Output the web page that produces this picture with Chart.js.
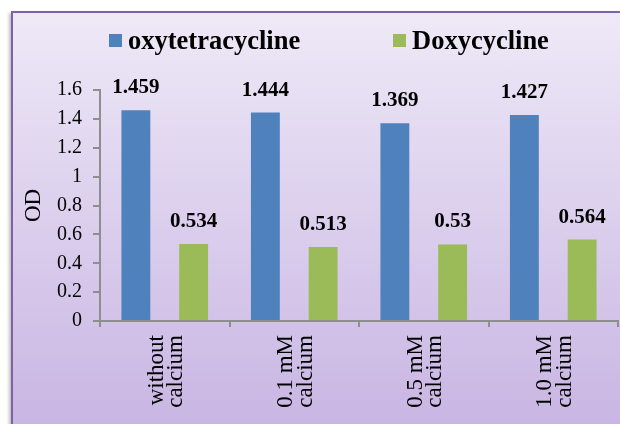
<!DOCTYPE html>
<html>
<head>
<meta charset="utf-8">
<script src="https://cdn.jsdelivr.net/npm/chart.js@4.4.1/dist/chart.umd.min.js"></script>
<style>
  html, body { margin: 0; padding: 0; background: #ffffff; width: 620px; height: 424px; overflow: hidden; }
  #panel {
    position: absolute; left: 11px; top: 11px; width: 640px; height: 430px;
    border: 2px solid #7e62a6;
    background: linear-gradient(to bottom, #eee9f7 0%, #c7b3e2 100%);
    box-shadow: -2px 2px 3px rgba(0, 0, 0, 0.25);
  }
  #c { position: absolute; left: 0; top: 0; }
</style>
</head>
<body>
<div id="panel"></div>
<canvas id="c" width="620" height="424"></canvas>
<script>
// Calcium treatments (two-line axis labels)
const categories = [
  ['without', 'calcium'],
  ['0.1 mM', 'calcium'],
  ['0.5 mM', 'calcium'],
  ['1.0 mM', 'calcium']
];
const seriesNames = ['oxytetracycline', 'Doxycycline'];
const oxytetracyclineOD = [1.459, 1.444, 1.369, 1.427];
const doxycyclineOD = [0.534, 0.513, 0.53, 0.564];
const yTickLabels = ['0', '0.2', '0.4', '0.6', '0.8', '1', '1.2', '1.4', '1.6'];

const SERIF = '"Liberation Serif", "Times New Roman", serif';
const AXIS_GREY = '#8e8e8e';

// Legend row drawn across the top of the panel
const legendRow = {
  id: 'legendRow',
  afterDraw(chart) {
    const ctx = chart.ctx;
    const starts = [109, 393];
    ctx.save();
    ctx.font = 'bold 26.5px ' + SERIF;
    ctx.textBaseline = 'middle';
    ctx.textAlign = 'left';
    chart.data.datasets.forEach((ds, i) => {
      ctx.fillStyle = ds.backgroundColor;
      ctx.fillRect(starts[i], 34, 13, 13);
      ctx.fillStyle = '#000000';
      ctx.fillText(ds.label, starts[i] + 19, 42);
    });
    ctx.restore();
  }
};

// Value printed above every bar
const valueLabels = {
  id: 'valueLabels',
  afterDatasetsDraw(chart) {
    const ctx = chart.ctx;
    ctx.save();
    ctx.font = 'bold 21px ' + SERIF;
    ctx.textAlign = 'center';
    ctx.textBaseline = 'alphabetic';
    ctx.fillStyle = '#000000';
    chart.data.datasets.forEach((ds, i) => {
      chart.getDatasetMeta(i).data.forEach((bar, j) => {
        ctx.fillText(String(ds.data[j]), bar.x, bar.y - 17);
      });
    });
    ctx.restore();
  }
};

new Chart(document.getElementById('c'), {
  type: 'bar',
  data: {
    labels: categories,
    datasets: [
      { label: seriesNames[0], data: oxytetracyclineOD, backgroundColor: '#4f81bd', borderWidth: 0 },
      { label: seriesNames[1], data: doxycyclineOD, backgroundColor: '#9bbb59', borderWidth: 0 }
    ]
  },
  options: {
    responsive: false,
    animation: false,
    events: [],
    datasets: { bar: { categoryPercentage: 0.892, barPercentage: 0.5 } },
    layout: { padding: { top: 90, right: 2, left: 0, bottom: 0 } },
    plugins: { legend: { display: false }, tooltip: { enabled: false } },
    scales: {
      x: {
        grid: { drawOnChartArea: false, tickLength: 6, color: AXIS_GREY, lineWidth: 2, offset: true },
        border: { color: AXIS_GREY, width: 2 },
        ticks: {
          autoSkip: false, minRotation: 90, maxRotation: 90, padding: 8, labelOffset: -8,
          color: '#000000', font: { family: SERIF, size: 23, lineHeight: 0.85 }
        },
        afterFit(scale) { scale.height = 103; }
      },
      y: {
        min: 0, max: 1.6,
        grid: { drawOnChartArea: false, tickLength: 7, color: AXIS_GREY, lineWidth: 2 },
        border: { color: AXIS_GREY, width: 2 },
        ticks: {
          stepSize: 0.2, padding: 11, color: '#000000',
          font: { family: SERIF, size: 20 },
          callback: (value, index) => yTickLabels[index]
        },
        title: {
          display: true, text: 'OD', color: '#000000',
          font: { family: SERIF, size: 23 }, padding: { top: 20, bottom: 0 }
        },
        afterFit(scale) { scale.width = 100; }
      }
    }
  },
  plugins: [legendRow, valueLabels]
});
</script>
</body>
</html>
